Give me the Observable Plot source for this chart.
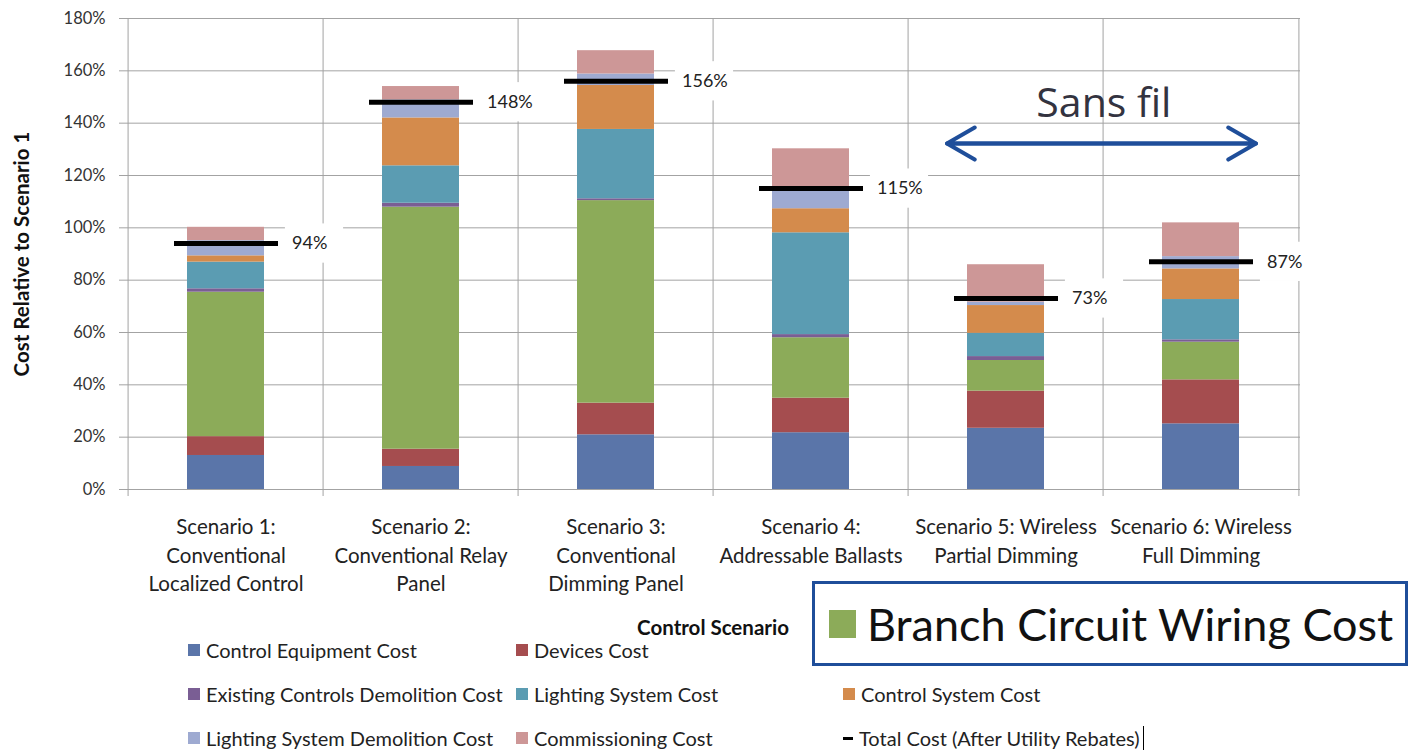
<!DOCTYPE html>
<html><head><meta charset="utf-8">
<script src="https://cdn.jsdelivr.net/npm/d3@7"></script>
<script src="https://cdn.jsdelivr.net/npm/@observablehq/plot@0.6"></script>
<style>
body{margin:0;background:#fff;}
#wrap{position:relative;width:1410px;height:752px;overflow:hidden;font-family:Lato,"Liberation Sans",sans-serif;background:#fff;}
#chart{position:absolute;left:0;top:0;}
.leg{position:absolute;display:flex;align-items:center;font-size:20px;color:#222;white-space:nowrap;transform:translateY(-50%);}
.sw{width:12px;height:12px;margin-right:6px;display:inline-block;}
#callout{position:absolute;left:812px;top:581px;width:590px;height:79px;border:3px solid #1f4e9a;background:#fff;display:flex;align-items:center;}
#callout .big{width:27px;height:28px;margin-left:14px;margin-right:11px;display:inline-block;}
#callout span.t{font-size:45px;color:#111;white-space:nowrap;}
</style></head><body><div id="wrap"><div id="chart"></div></div>
<script>
// ---- data ----
const scenarios = [
  "Scenario 1:\nConventional\nLocalized Control",
  "Scenario 2:\nConventional Relay\nPanel",
  "Scenario 3:\nConventional\nDimming Panel",
  "Scenario 4:\nAddressable Ballasts",
  "Scenario 5: Wireless\nPartial Dimming",
  "Scenario 6: Wireless\nFull Dimming"
];
const seriesNames = [
  "Control Equipment Cost",
  "Devices Cost",
  "Branch Circuit Wiring Cost",
  "Existing Controls Demolition Cost",
  "Lighting System Cost",
  "Control System Cost",
  "Lighting System Demolition Cost",
  "Commissioning Cost"
];
const seriesColors = ["#5a75a9","#a54d4f","#8cab59","#7a5e94","#5b9cb2","#d48b4c","#9eaad1","#cd9797"];
const controlEquipment   = [13.0, 8.8, 20.9, 21.7, 23.4, 25.1];
const devices            = [7.2, 6.6, 12.1, 13.2, 14.2, 16.8];
const branchWiring       = [55.2, 92.5, 77.4, 23.1, 11.7, 14.4];
const existingDemolition = [1.3, 1.5, 0.7, 1.2, 1.5, 0.9];
const lightingSystem     = [10.2, 14.3, 26.5, 38.9, 8.9, 15.4];
const controlSystem      = [2.4, 18.3, 16.8, 9.2, 10.6, 11.7];
const lightingDemolition = [5.8, 6.9, 4.4, 8.0, 1.3, 4.7];
const commissioning      = [5.1, 5.1, 8.9, 14.9, 14.3, 12.9];
const totalCost          = [94, 148, 156, 115, 73, 87];
const yTicks = [0,20,40,60,80,100,120,140,160,180];
const annotation = [{from: scenarios[4], to: scenarios[5], y: 132.2, labelY: 147.5, label: "Sans fil"}];

// ---- build tables ----
const seriesValues = [controlEquipment, devices, branchWiring, existingDemolition, lightingSystem, controlSystem, lightingDemolition, commissioning];
const rows = scenarios.flatMap((s, i) => seriesNames.map((name, k) => ({scenario: s, series: name, value: seriesValues[k][i]})));
const totals = scenarios.map((s, i) => ({scenario: s, total: totalCost[i]}));

const W = 1410, H = 640, ML = 125, MR = 110, MT = 18, MB = 151;
const bw = (W - ML - MR) / scenarios.length;
const grid = "#a3a3a3";
const arrowColor = "#1f4e9a";

const chart = Plot.plot({
  width: W, height: H, marginLeft: ML, marginRight: MR, marginTop: MT, marginBottom: MB,
  style: {fontFamily: "Lato, 'Liberation Sans', sans-serif", background: "#fff", overflow: "visible"},
  x: {type: "band", domain: scenarios, padding: 0, axis: null},
  y: {domain: [0, 180], axis: null},
  color: {domain: seriesNames, range: seriesColors},
  marks: [
    Plot.gridY(yTicks, {stroke: grid, strokeOpacity: 1}),
    Plot.ruleX(scenarios, {x: d => d, dx: -bw / 2, stroke: grid, insetBottom: -7}),
    Plot.ruleX(scenarios.slice(-1), {x: d => d, dx: bw / 2, stroke: grid, insetBottom: -7}),
    Plot.axisY({ticks: yTicks, tickFormat: d => d + "%", tickSize: 6, tickPadding: 14, stroke: grid, fill: "#333", fontSize: 16.5}),
    Plot.barY(rows, Plot.stackY({x: "scenario", y: "value", fill: "series", insetLeft: 59, insetRight: 59})),
    Plot.barY(totals, {x: "scenario", y1: d => d.total - 7.5, y2: d => d.total + 7.5, fill: "white", insetLeft: bw / 2 + 59, insetRight: bw / 2 - 118}),
    Plot.tickY(totals, {x: "scenario", y: "total", stroke: "#000", strokeWidth: 5, insetLeft: 46, insetRight: 45}),
    Plot.text(totals, {x: "scenario", y: "total", text: d => d.total + "%", dx: 66, textAnchor: "start", fontSize: 18, fill: "#222"}),
    Plot.text(scenarios, {x: d => d, text: d => d, frameAnchor: "bottom", lineAnchor: "top", dy: 25, fontSize: 20.5, lineHeight: 1.37, fill: "#222"}),
    Plot.text(["Control Scenario"], {text: d => d, frameAnchor: "bottom", dy: 145, fontWeight: "bold", fontSize: 20.5, fill: "#111"}),
    Plot.text(["Cost Relative to Scenario 1"], {text: d => d, frameAnchor: "left", textAnchor: "middle", dx: -103, rotate: -90, fontWeight: "bold", fontSize: 20.5, fill: "#111"}),
    Plot.arrow(annotation, {x1: "from", x2: "to", y1: "y", y2: "y", insetStart: -59, insetEnd: -55, headLength: 12, stroke: arrowColor, strokeWidth: 4}),
    Plot.arrow(annotation, {x1: "to", x2: "from", y1: "y", y2: "y", insetStart: -55, insetEnd: -59, headLength: 12, stroke: arrowColor, strokeWidth: 4}),
    Plot.text(annotation, {x: "from", y: "labelY", text: "label", dx: bw / 2, fontSize: 41, fill: "#333340", fontFamily: "'Open Sans', sans-serif"})
  ]
});
document.getElementById("chart").appendChild(chart);

// ---- legend (the Branch Circuit Wiring entry is shown enlarged in the callout box) ----
const legendCols = [188, 516, 843];
const legendRows = [650, 694, 738];
const legendItems = [
  [0, 0, 0], [1, 0, 1],
  [3, 1, 0], [4, 1, 1], [5, 1, 2],
  [6, 2, 0], [7, 2, 1]
];
const wrap = document.getElementById("wrap");
for (const [k, r, c] of legendItems) {
  const d = document.createElement("div");
  d.className = "leg";
  d.style.left = legendCols[c] + "px";
  d.style.top = legendRows[r] + "px";
  d.innerHTML = `<span class="sw" style="background:${seriesColors[k]}"></span>${seriesNames[k]}`;
  wrap.appendChild(d);
}
{
  const d = document.createElement("div");
  d.className = "leg";
  d.style.left = legendCols[2] + "px";
  d.style.top = legendRows[2] + "px";
  d.innerHTML = `<span style="width:10px;height:3px;background:#000;display:inline-block;margin-right:6px"></span>Total Cost (After Utility Rebates)<span style="display:inline-block;width:1px;height:24px;background:#000;margin-left:3px"></span>`;
  wrap.appendChild(d);
}
// callout box highlighting the branch circuit wiring series
{
  const d = document.createElement("div");
  d.id = "callout";
  d.innerHTML = `<span class="big" style="background:${seriesColors[2]}"></span><span class="t">${seriesNames[2]}</span>`;
  wrap.appendChild(d);
}
</script>
</body></html>
